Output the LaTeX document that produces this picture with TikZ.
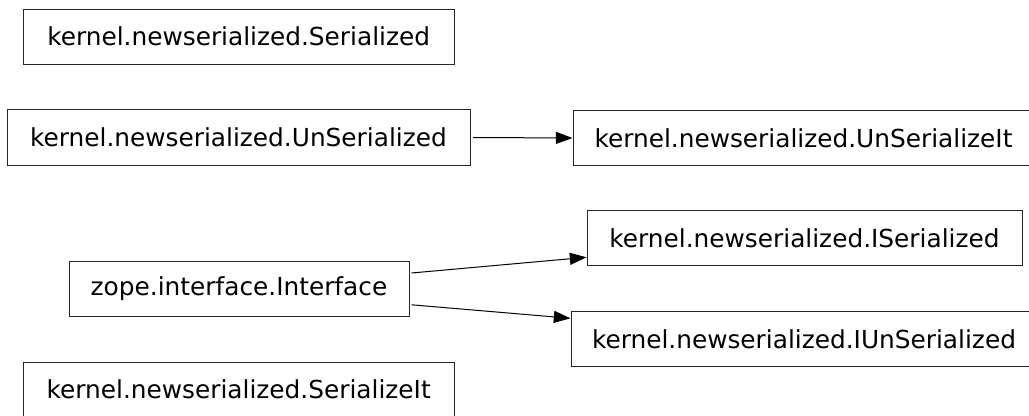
\documentclass[tikz,border=0pt]{standalone}
\usepackage{fontspec}
\setmainfont{DejaVu Sans}
\usetikzlibrary{arrows.meta}
\begin{document}
\begin{tikzpicture}[x=0.75pt,y=-0.75pt,
  cls/.style={draw=black!85, line width=0.75pt, rectangle, inner sep=0pt,
    minimum height=41.5pt, font=\fontsize{18.6pt}{22pt}\selectfont, anchor=center},
  arr/.style={draw=black, line width=0.75pt, -{Triangle[length=12.5pt,width=9pt]}}]
\useasboundingbox (0,0) rectangle (1029,416);
\clip (0,0) rectangle (1029,416);
\node[cls, minimum width=323pt]    (ser)   at (238.7,36.7)  {kernel.newserialized.Serialized};
\node[cls, minimum width=347.25pt] (unser) at (238.5,137.5) {kernel.newserialized.UnSerialized};
\node[cls, minimum width=345.75pt] (unsit) at (803.5,138)   {kernel.newserialized.UnSerializeIt};
\node[cls, minimum width=326.25pt] (iser)  at (804.5,238.3) {kernel.newserialized.ISerialized};
\node[cls, minimum width=255pt]    (iface) at (239,288.8)   {zope.interface.Interface};
\node[cls, minimum width=349.5pt]  (iunser) at (804,339.3)  {kernel.newserialized.IUnSerialized};
\node[cls, minimum width=323pt]    (serit) at (238.7,389.7) {kernel.newserialized.SerializeIt};
\draw[arr] ([xshift=2pt]unser.east) -- (unsit.west);
\draw[arr] ([xshift=1.5pt,yshift=11.85pt]iface.east) -- ([yshift=-14.25pt]iser.west);
\draw[arr] ([xshift=1.5pt,yshift=-12pt]iface.east) -- ([yshift=15.75pt]iunser.west);
\end{tikzpicture}
\end{document}
